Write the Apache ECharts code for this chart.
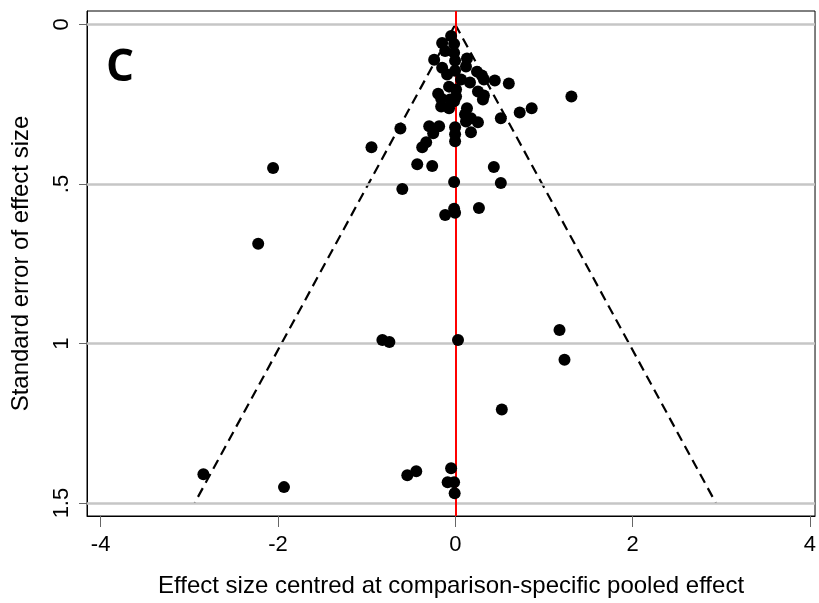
<!DOCTYPE html>
<html>
<head>
<meta charset="utf-8">
<script src="https://cdn.jsdelivr.net/npm/echarts@6/dist/echarts.min.js"></script>
<style>
html, body { margin: 0; padding: 0; background: #fff; }
#chart { width: 819px; height: 603px; }
</style>
</head>
<body>
<div id="chart"></div>
<script>
// study effects (centred) and their standard errors
var effect = [
  -0.047, -0.148, -0.013, -0.114, -0.013, -0.238, -0.002, 0.132, -0.148, 0.121,
  -0.092, -0.002, 0.245, 0.301, 0.323, 0.446, 0.604, 0.065, 0.166, -0.070,
  0.009, -0.193, 0.256, 0.323, 1.310, -0.159, -0.058, 0.009, -0.159, -0.070,
  0.132, 0.862, 0.727, 0.110, 0.177, 0.514, 0.256, 0.121, -0.619, -0.294,
  -0.182, -0.249, -0.002, -0.002, -0.002, 0.177, -0.328, -0.373, -0.945, -0.013,
  0.312, -0.429, -0.260, 0.435, -2.055, -0.013, 0.514, -0.597, -0.013, 0.267,
  -0.114, -0.002, -2.223, -0.822, -0.743, 0.031, 1.176, 1.232, 0.525, -2.841,
  -1.932, -0.541, -0.440, -0.047, -0.086, -0.013, -0.007
];
var stdErr = [
  0.036, 0.058, 0.061, 0.083, 0.089, 0.111, 0.114, 0.107, 0.136, 0.132,
  0.157, 0.145, 0.148, 0.160, 0.173, 0.176, 0.185, 0.173, 0.182, 0.195,
  0.204, 0.217, 0.210, 0.223, 0.226, 0.232, 0.235, 0.226, 0.257, 0.263,
  0.263, 0.263, 0.276, 0.282, 0.294, 0.294, 0.307, 0.304, 0.326, 0.319,
  0.319, 0.341, 0.322, 0.344, 0.366, 0.338, 0.369, 0.385, 0.385, 0.241,
  0.235, 0.438, 0.444, 0.447, 0.450, 0.494, 0.497, 0.516, 0.578, 0.575,
  0.597, 0.590, 0.687, 0.989, 0.995, 0.989, 0.958, 1.051, 1.207, 1.410,
  1.450, 1.413, 1.400, 1.391, 1.435, 1.435, 1.469
];

var xTicks = [-4, -2, 0, 2, 4];
var yTicks = [0, 0.5, 1, 1.5];
var yTickLabels = ['0', '.5', '1', '1.5'];

// pseudo 95% limits of the funnel
var funnelSE = [0, 1.5];
var funnelLeft = [0, -2.94];
var funnelRight = [0, 2.94];

var font = 'Liberation Sans, Arial, sans-serif';

var points = effect.map(function (v, i) { return [v, stdErr[i]]; });
var leftLine = funnelSE.map(function (s, i) { return [funnelLeft[i], s]; });
var rightLine = funnelSE.map(function (s, i) { return [funnelRight[i], s]; });

var chart = echarts.init(document.getElementById('chart'));
chart.setOption({
  animation: false,
  backgroundColor: '#fff',
  grid: {
    left: 87, right: 0, top: 11, bottom: 84,
    show: true, borderColor: '#000', borderWidth: 1, backgroundColor: 'transparent'
  },
  xAxis: {
    type: 'value',
    min: -4.154, max: 4.058,
    name: 'Effect size centred at comparison-specific pooled effect',
    nameLocation: 'middle',
    nameGap: 58,
    nameTextStyle: { fontFamily: font, fontSize: 24, color: '#000' },
    axisLine: { show: true, onZero: false, lineStyle: { color: '#000', width: 1 } },
    axisTick: { show: true, length: 11, customValues: xTicks, lineStyle: { color: '#666', width: 1 } },
    axisLabel: { customValues: xTicks, fontFamily: font, fontSize: 22, color: '#000', margin: 18 },
    splitLine: { show: false }
  },
  yAxis: {
    type: 'value',
    inverse: true,
    min: -0.042, max: 1.5405,
    name: 'Standard error of effect size',
    nameLocation: 'middle',
    nameGap: 54,
    nameTextStyle: { fontFamily: font, fontSize: 24, color: '#000' },
    axisLine: { show: true, onZero: false, lineStyle: { color: '#000', width: 1 } },
    axisTick: { show: true, length: 8, customValues: yTicks, lineStyle: { color: '#666', width: 1 } },
    axisLabel: {
      customValues: yTicks, rotate: 90, fontFamily: font, fontSize: 22, color: '#000', margin: 14,
      formatter: function (v) { return yTickLabels[yTicks.indexOf(v)]; }
    },
    splitLine: { show: false }
  },
  graphic: [{
    type: 'text', left: 106, top: 46, z: 100,
    style: { text: 'C', fontFamily: 'Open Sans, Lato, sans-serif', fontWeight: 'bold', fontSize: 44, fill: '#000' }
  }],
  series: [
    {
      type: 'line', data: [], silent: true, z: 1,
      markLine: {
        silent: true, symbol: 'none', label: { show: false },
        lineStyle: { color: '#c6c6c6', width: 2.5, type: 'solid' },
        data: yTicks.map(function (t) { return { yAxis: t }; })
      }
    },
    {
      type: 'line', data: leftLine, showSymbol: false, silent: true, z: 2,
      lineStyle: { color: '#000', width: 2.2, type: [10, 6] }
    },
    {
      type: 'line', data: rightLine, showSymbol: false, silent: true, z: 2,
      lineStyle: { color: '#000', width: 2.2, type: [10, 6] }
    },
    {
      type: 'line', data: [], silent: true, z: 3,
      markLine: {
        silent: true, symbol: 'none', label: { show: false },
        lineStyle: { color: '#ff0000', width: 2, type: 'solid' },
        data: [{ xAxis: 0 }]
      }
    },
    {
      type: 'scatter', data: points, symbol: 'circle', symbolSize: 12, z: 10,
      itemStyle: { color: '#000', opacity: 1 }
    }
  ]
});
</script>
</body>
</html>
